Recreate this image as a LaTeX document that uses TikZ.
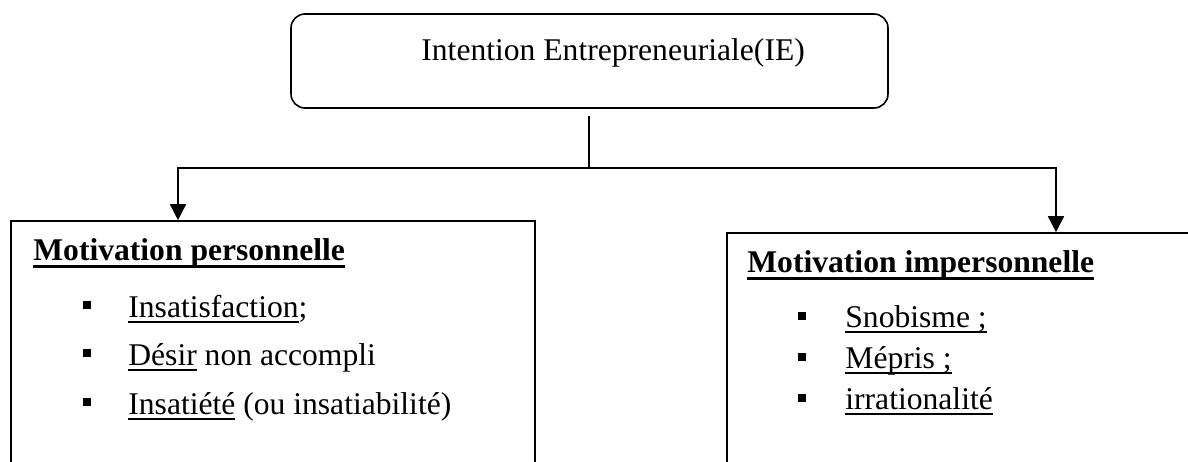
\documentclass[tikz,border=0pt]{standalone}
\usepackage{fontspec}
\setmainfont{Liberation Serif}
\usetikzlibrary{arrows.meta}

\newsavebox{\ulbox}
\newcommand{\souligne}[1]{\sbox\ulbox{#1}\rlap{\rule[-2.8pt]{\wd\ulbox}{0.7pt}}\usebox\ulbox}
\newcommand{\soulgras}[1]{\sbox\ulbox{#1}\rlap{\rule[-4pt]{\wd\ulbox}{1.5pt}}\usebox\ulbox}

\begin{document}
\begin{tikzpicture}[x=0.5pt, y=-0.5pt,
   txt/.style={anchor=base west, inner sep=0pt, font=\fontsize{15.8pt}{18pt}\selectfont},
   titre/.style={txt, font=\fontsize{15.8pt}{18pt}\selectfont\bfseries},
   puce/.style={fill=black, minimum size=4.3pt, inner sep=0pt},
   bloc/.style={draw, line width=0.8pt, inner sep=0pt},
   fleche/.style={line width=0.8pt, -{Triangle[width=8pt,length=8pt]}}]
   \useasboundingbox (0,0) rectangle (1188,461);
   \clip (0,0) rectangle (1188,461);

   % Boxes
   \node[bloc, rounded corners=7pt, minimum width=298.5pt, minimum height=47pt] (ie) at (589.5,61) {};
   \node[bloc, minimum width=262pt, minimum height=129pt] (perso) at (273,350) {};
   \node[bloc, minimum width=241.5pt, minimum height=123pt] (imperso) at (968.5,356) {};

   % Title of the top box
   \node[txt] (ietxt) at (421,60) {Intention Entrepreneuriale(IE)};

   % Connectors
   \coordinate (stem) at (589,116);
   \coordinate (split) at (589,168);
   \draw[line width=0.8pt] (stem) -- (split);
   \draw[fleche] (split) -| ([xshift=-47.5pt]perso.north);   % left branch
   \draw[fleche] (split) -| ([xshift=43.75pt]imperso.north); % right branch

   % Motivation personnelle
   \node[titre] (tperso) at (33,260) {\soulgras{Motivation personnelle}};
   \node[puce] (p1) at (87,305) {};
   \node[puce] (p2) at (87,353) {};
   \node[puce] (p3) at (87,402) {};
   \node[txt] (l1) at (128,317) {\souligne{Insatisfaction};};
   \node[txt] (l2) at (128,365) {\souligne{Désir} non accompli};
   \node[txt] (l3) at (128,414) {\souligne{Insatiété} (ou insatiabilité)};

   % Motivation impersonnelle
   \node[titre] (timperso) at (747,272) {\soulgras{Motivation impersonnelle}};
   \node[puce] (q1) at (802,316) {};
   \node[puce] (q2) at (802,357) {};
   \node[puce] (q3) at (802,398) {};
   \node[txt] (r1) at (845,327) {\souligne{Snobisme ;}};
   \node[txt] (r2) at (845,368) {\souligne{Mépris ;}};
   \node[txt] (r3) at (845,409) {\souligne{irrationalité}};
\end{tikzpicture}
\end{document}
